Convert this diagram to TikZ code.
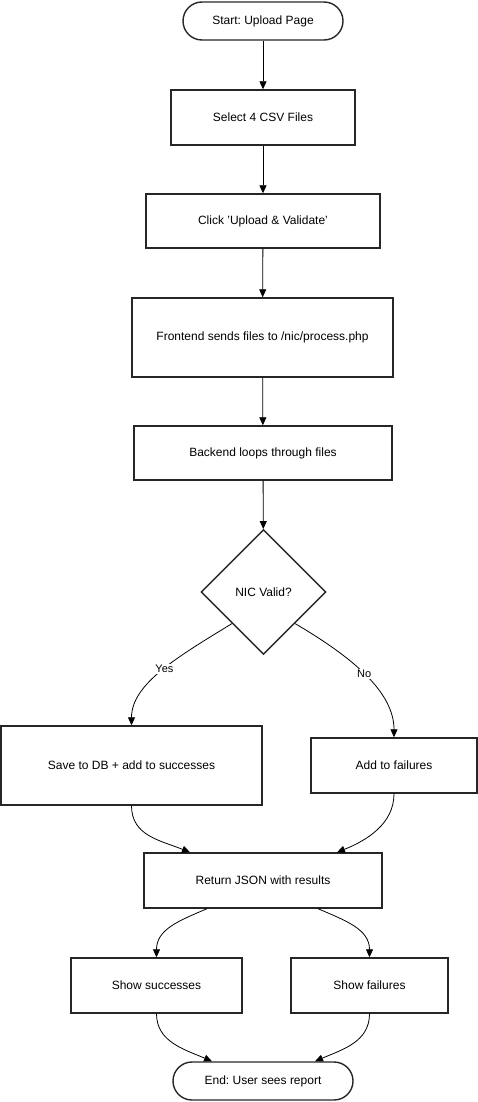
\documentclass[tikz,border=0pt]{standalone}
\usepackage{fontspec}
\setmainfont{Liberation Sans}
\usetikzlibrary{shapes.geometric,arrows.meta}
\frenchspacing
\begin{document}
\begin{tikzpicture}[x=1pt,y=-1pt,
  box/.style={draw=black!85,line width=1.4pt,rectangle,inner sep=0pt,font=\fontsize{12}{14}\selectfont},
  term/.style={box,rounded corners=19pt},
  decision/.style={draw=black!85,line width=1.4pt,diamond,aspect=1,inner sep=0pt,minimum width=125pt,minimum height=125pt,font=\fontsize{12}{14}\selectfont},
  arr/.style={draw=black,line width=0.8pt,-{Triangle[length=8pt,width=7pt]}},
  lbl/.style={fill=white,inner sep=1pt,font=\fontsize{11}{13}\selectfont}]
\useasboundingbox (0,0) rectangle (478,1102);
\node[term,minimum width=160pt,minimum height=38pt] (start) at (263,21) {Start: Upload Page};
\node[box,minimum width=184pt,minimum height=55pt] (sel) at (263,117.5) {Select 4 CSV Files};
\node[box,minimum width=234pt,minimum height=54pt] (click) at (263,221) {Click 'Upload \& Validate'};
\node[box,minimum width=261pt,minimum height=79pt] (front) at (262.5,337.5) {Frontend sends files to /nic/process.php};
\node[box,minimum width=258pt,minimum height=54pt] (back) at (263,453) {Backend loops through files};
\node[decision] (dia) at (263.5,592) {NIC Valid?};
\node[box,minimum width=261pt,minimum height=79pt] (save) at (131.5,765.5) {Save to DB + add to successes};
\node[box,minimum width=166pt,minimum height=55pt] (fail) at (394,765.5) {Add to failures};
\node[box,minimum width=238pt,minimum height=55pt] (ret) at (263,880.5) {Return JSON with results};
\node[box,minimum width=171pt,minimum height=55pt] (ss) at (156.5,985.5) {Show successes};
\node[box,minimum width=157pt,minimum height=55pt] (sf) at (369.5,985.5) {Show failures};
\node[term,minimum width=180pt,minimum height=38pt] (end) at (263,1081) {End: User sees report};

\draw[arr] (start) -- (sel);
\draw[arr] (sel) -- (click);
\draw[arr] (click) -- (front);
\draw[arr] (front) -- (back);
\draw[arr] (back) -- (dia);
\draw[arr] (dia.south west) .. controls +(-52,32) and +(0,-42) .. node[lbl,pos=0.48] {Yes} (save.north);
\draw[arr] (dia.south east) .. controls +(58,34) and +(0,-45) .. node[lbl,pos=0.48] {No} (fail.north);
\draw[arr] (save.south) .. controls +(0,30) and +(-30,-12) .. ([xshift=-73pt]ret.north);
\draw[arr] (fail.south) .. controls +(0,30) and +(30,-12) .. ([xshift=74pt]ret.north);
\draw[arr] ([xshift=-56pt]ret.south) .. controls +(-28,12) and +(0,-28) .. (ss.north);
\draw[arr] ([xshift=55pt]ret.south) .. controls +(28,12) and +(0,-28) .. (sf.north);
\draw[arr] (ss.south) .. controls +(0,28) and +(-28,-12) .. ([xshift=-51pt]end.north);
\draw[arr] (sf.south) .. controls +(0,28) and +(28,-12) .. ([xshift=52pt]end.north);
\end{tikzpicture}
\end{document}
